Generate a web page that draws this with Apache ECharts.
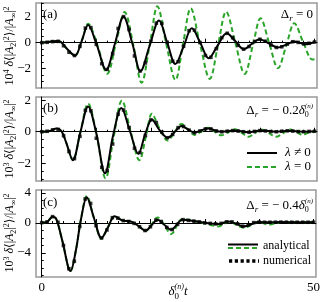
<!DOCTYPE html>
<html><head><meta charset="utf-8">
<script src="https://cdn.jsdelivr.net/npm/echarts@6/dist/echarts.min.js"></script>
<style>html,body{margin:0;padding:0;background:#fff}#c{width:323px;height:302px}</style>
</head><body><div id="c"></div>
<script>
// ---------- data ----------
// panel (a): Delta_r = 0
const aBlackX = [0, 1.2, 2.7, 3.5, 4.8, 6.1, 7.3, 8.5, 10.1, 11.8, 13.4, 15.0, 16.6, 18.1, 19.8, 21.5, 23.0, 24.5, 26.0, 27.5, 29.1, 30.6, 32.2, 33.9, 35.5, 37.0, 38.5, 39.9, 41.6, 43.3, 44.8, 46.3, 48.3, 50];
const aBlackY = [0, 0.05, 0.12, 0.05, -0.55, -1.0, 0.1, 1.35, -0.2, -2.1, -0.1, 2.0, -0.05, -2.2, -0.2, 1.7, 0.0, -1.65, -0.3, 1.1, -0.05, -1.2, -0.25, 0.72, 0.1, -0.5, -0.1, 0.26, -0.05, -0.38, -0.15, 0.08, -0.12, 0.05];
const aGreenX = [0, 1.2, 2.7, 3.5, 4.8, 6.1, 7.3, 8.5, 10.2, 12.0, 13.6, 15.2, 16.8, 18.3, 19.8, 21.2, 22.8, 24.5, 25.9, 27.3, 29.0, 30.8, 32.3, 33.8, 35.5, 37.2, 38.7, 40.1, 41.7, 43.3, 44.8, 46.3, 47.9, 49.6, 50];
const aGreenY = [0, 0.05, 0.12, 0.05, -0.55, -1.0, 0.1, 1.45, -0.2, -2.4, -0.05, 2.35, -0.2, -3.08, -0.15, 2.8, -0.05, -2.87, -0.1, 2.64, -0.1, -2.79, -0.2, 2.38, -0.05, -2.41, -0.2, 1.87, -0.05, -1.97, -0.25, 1.49, 0.05, -1.3, -1.27];
// numerical points at t = 0, 1, ..., 50
const numT = [0, 1, 2, 3, 4, 5, 6, 7, 8, 9, 10, 11, 12, 13, 14, 15, 16, 17, 18, 19, 20, 21, 22, 23, 24, 25, 26, 27, 28, 29, 30, 31, 32, 33, 34, 35, 36, 37, 38, 39, 40, 41, 42, 43, 44, 45, 46, 47, 48, 49, 50];
const aNumY = [0, 0.03, 0.08, 0.1, -0.24, -0.74, -0.99, -0.28, 1.12, 1.16, -0.13, -1.62, -2.06, -0.84, 1.09, 2.0, 1.01, -1.02, -2.19, -1.56, 0.11, 1.5, 1.48, 0.03, -1.43, -1.47, -0.28, 0.92, 0.96, 0.01, -0.99, -1.13, -0.47, 0.39, 0.72, 0.38, -0.21, -0.5, -0.3, 0.09, 0.26, 0.11, -0.18, -0.37, -0.32, -0.11, 0.07, 0.02, -0.1, -0.05, 0.05];

// panel (b): Delta_r = -0.2 delta
const bBlackX = [0, 1.5, 2.7, 3.6, 4.5, 5.7, 7.1, 8.5, 10.0, 11.6, 13.1, 14.6, 16.2, 17.7, 19.0, 20.2, 21.6, 23.1, 24.4, 25.6, 26.8, 28.0, 29.2, 30.5, 32.0, 33.0, 35.3, 37.9, 40.2, 42.9, 45.4, 47.8, 50];
const bBlackY = [0, 0.05, 0.2, 0.05, -0.7, -1.8, 0.0, 1.6, -0.1, -2.63, -0.2, 1.5, 0.0, -1.4, -0.1, 0.78, 0.1, -0.38, 0.0, 0.36, 0.15, -0.06, 0.08, 0.21, 0.05, 0.0, 0.08, -0.03, 0.08, 0.0, 0.06, 0.0, 0.03];
const bGreenX = [0, 1.5, 2.7, 3.6, 4.5, 5.7, 7.1, 8.5, 10.0, 11.7, 13.2, 14.7, 16.3, 17.9, 19.1, 20.2, 21.6, 23.1, 24.4, 25.6, 26.8, 28.0, 29.2, 30.5, 31.7, 32.9, 34.1, 35.3, 36.6, 37.9, 39.0, 40.2, 41.5, 42.9, 44.2, 45.4, 46.6, 47.8, 49.0, 50];
const bGreenY = [0, 0.05, 0.2, 0.05, -0.7, -1.8, 0.0, 1.78, -0.1, -2.95, -0.3, 1.98, 0.0, -1.8, -0.3, 1.14, 0.2, -0.56, 0.0, 0.49, 0.15, -0.2, 0.0, 0.25, 0.0, -0.23, -0.05, 0.15, -0.05, -0.32, -0.1, 0.15, -0.05, -0.32, -0.1, 0.15, 0.0, -0.2, -0.05, 0.0];
const bNumY = [0, 0.03, 0.12, 0.15, -0.25, -1.25, -1.7, -0.29, 1.35, 1.33, -0.41, -2.25, -2.45, -0.78, 1.11, 1.38, 0.27, -1.05, -1.32, -0.24, 0.75, 0.58, -0.02, -0.38, -0.17, 0.26, 0.33, 0.1, -0.06, 0.05, 0.18, 0.18, 0.05, 0.0, 0.03, 0.07, 0.04, 0.0, -0.03, 0.02, 0.07, 0.05, 0.01, 0.0, 0.03, 0.06, 0.04, 0.01, 0.0, 0.02, 0.03];

// panel (c): Delta_r = -0.4 delta
const cBlackX = [0, 1.0, 2.0, 2.7, 3.8, 5.3, 6.3, 7.2, 8.3, 9.6, 11.0, 12.2, 13.4, 14.8, 16.6, 17.9, 19.1, 20.2, 21.3, 22.5, 23.8, 25.9, 28.3, 30.2, 32.5, 34.4, 37.2, 39.9, 41.8, 44, 47, 50];
const cBlackY = [0.05, 0.15, 0.85, 0.5, -2.4, -6.4, -3.6, 0.4, 3.45, 0.7, -2.0, -0.55, 0.9, 0.35, 0.15, -0.45, -1.03, -0.3, 0.44, -0.2, -0.9, 0.44, 0.22, 0.0, -0.13, 0.2, -0.45, 0.13, 0.1, 0.12, 0.1, 0.1];
const cGreenX = [0, 1.0, 2.0, 2.7, 3.8, 5.3, 6.3, 7.2, 8.3, 9.6, 11.0, 12.2, 13.4, 14.8, 16.6, 17.9, 19.1, 20.2, 21.3, 22.5, 23.8, 25.9, 28.3, 30.2, 32.5, 34.4, 37.2, 39.9, 41.8, 44, 47, 50];
const cGreenY = [0.05, 0.15, 0.85, 0.5, -2.4, -6.4, -3.6, 0.4, 3.6, 0.7, -2.1, -0.55, 0.9, 0.35, 0.15, -0.45, -1.05, -0.2, 0.75, -0.2, -1.47, 0.55, 0.2, -0.1, -0.45, 0.15, -0.62, 0.13, -0.22, 0.1, 0.1, 0.1];
const cNumY = [0.05, 0.15, 0.85, 0.1, -3.0, -6.1, -5.1, -0.45, 3.2, 2.6, -0.36, -2.0, -0.93, 0.71, 0.65, 0.32, 0.2, -0.05, -0.5, -1.0, -0.5, 0.37, 0.2, -0.59, -0.87, -0.18, 0.44, 0.35, 0.25, 0.15, 0.02, -0.05, -0.12, -0.05, 0.15, 0.15, -0.1, -0.43, -0.25, 0.05, 0.13, 0.1, 0.1, 0.11, 0.12, 0.11, 0.1, 0.1, 0.1, 0.1, 0.1];

// ticks
const xTickMajor = [0, 10, 20, 30, 40, 50];
const xTickMinor = [2, 4, 6, 8, 12, 14, 16, 18, 22, 24, 26, 28, 32, 34, 36, 38, 42, 44, 46, 48];
const xTickLabels = [0, 50];
const yLabelsA = [-2, 0, 2];
const yMinorA = [-3.5, -3, -2.5, -1.5, -1, -0.5, 0.5, 1, 1.5, 2.5, 3];
const yLabelsB = [-2, 0, 2];
const yMinorB = [-3, -2.5, -1.5, -1, -0.5, 0.5, 1, 1.5];
const yLabelsC = [-4, 0, 4];
const yMinorC = [-7, -6, -5, -3, -2, -1, 1, 2, 3];
const yRanges = [[-3.49, 3.05], [-3.12, 2.2], [-7.2, 4.4]];
const xRange = [-1.05, 50.45];

// ---------- chart ----------
const FONT = '"Liberation Serif", "DejaVu Serif", serif';
const GREEN = '#2aa52a';
const pairs = (xs, ys) => xs.map((x, i) => [x, ys[i]]);
const grids = [
  {left: 36, right: 6, top: 3, height: 85},
  {left: 36, right: 6, top: 97, height: 84},
  {left: 36, right: 6, top: 190, height: 87}
].map(g => Object.assign(g, {show: true, borderColor: '#999', borderWidth: 1.5, containLabel: false}));

const xAxes = [], yAxes = [];
const yLab = [yLabelsA, yLabelsB, yLabelsC], yMin = [yMinorA, yMinorB, yMinorC];
for (let i = 0; i < 3; i++) {
  xAxes.push({type: 'value', gridIndex: i, min: xRange[0], max: xRange[1], position: 'bottom',
    axisLine: {show: true, lineStyle: {color: '#000', width: 1}},
    axisTick: {show: true, inside: true, length: 4, customValues: xTickMajor, lineStyle: {color: '#000'}},
    axisLabel: {show: i === 2, customValues: xTickLabels, margin: 4, fontFamily: FONT, fontSize: 13, color: '#000'},
    splitLine: {show: false}});
  xAxes.push({type: 'value', gridIndex: i, min: xRange[0], max: xRange[1], position: 'bottom',
    axisLine: {show: false},
    axisTick: {show: true, inside: true, length: 2, customValues: xTickMinor, lineStyle: {color: '#000'}},
    axisLabel: {show: false}, splitLine: {show: false}});
  yAxes.push({type: 'value', gridIndex: i, min: yRanges[i][0], max: yRanges[i][1], position: 'left',
    axisLine: {show: true, lineStyle: {color: '#000', width: 1}},
    axisTick: {show: true, inside: true, length: 4, customValues: yLab[i], lineStyle: {color: '#000'}},
    axisLabel: {show: true, customValues: yLab[i], margin: 5, fontFamily: FONT, fontSize: 13, color: '#000',
      formatter: v => (v < 0 ? '\u2212' + Math.abs(v) : String(v))},
    splitLine: {show: false}});
  yAxes.push({type: 'value', gridIndex: i, min: yRanges[i][0], max: yRanges[i][1], position: 'left', offset: 0,
    axisLine: {show: false},
    axisTick: {show: true, inside: true, length: 2, customValues: yMin[i], lineStyle: {color: '#000'}},
    axisLabel: {show: false}, splitLine: {show: false}});
}

const seriesData = [
  [pairs(aGreenX, aGreenY), pairs(aBlackX, aBlackY), pairs(numT, aNumY)],
  [pairs(bGreenX, bGreenY), pairs(bBlackX, bBlackY), pairs(numT, bNumY)],
  [pairs(cGreenX, cGreenY), pairs(cBlackX, cBlackY), pairs(numT, cNumY)]
];
const series = [];
for (let i = 0; i < 3; i++) {
  const base = {xAxisIndex: 2 * i, yAxisIndex: 2 * i, animation: false, silent: true};
  series.push(Object.assign({type: 'line', showSymbol: false, symbol: 'none', smooth: 0.35}, base,
    {data: seriesData[i][0], z: 2, lineStyle: {color: GREEN, width: 2, type: [5, 3]}}));
  series.push(Object.assign({type: 'line', showSymbol: false, symbol: 'none', smooth: 0.35}, base,
    {data: seriesData[i][1], z: 3, lineStyle: {color: '#000', width: 2}}));
  series.push(Object.assign({type: 'scatter', symbol: 'rect', symbolSize: 3.6}, base,
    {data: seriesData[i][2], z: 4, itemStyle: {color: '#000'}}));
}

// ---------- text helpers ----------
const mctx = document.createElement('canvas').getContext('2d');
function tw(s, size, it) { mctx.font = (it ? 'italic ' : '') + size + 'px "Liberation Serif"'; return mctx.measureText(s).width; }
function textRun(x, y, pieces, align) {
  let total = 0;
  pieces.forEach(p => { if (!p.noAdv) total += tw(p.s, p.size, p.it); });
  let cx = align === 'right' ? x - total : align === 'center' ? x - total / 2 : x;
  const out = [];
  pieces.forEach(p => {
    out.push({type: 'text', x: cx, y: y + (p.dy || 0), z: 10, silent: true,
      style: {text: p.s, fontFamily: FONT, fontSize: p.size, fontStyle: p.it ? 'italic' : 'normal',
        fill: '#000', textAlign: 'left', textVerticalAlign: 'middle', verticalAlign: 'middle'}});
    if (!p.noAdv) cx += tw(p.s, p.size, p.it);
  });
  return out;
}
const g = [];
// panel labels
g.push(...textRun(43, 15, [{s: '(a)', size: 13}], 'left'));
g.push(...textRun(43, 109, [{s: '(b)', size: 13}], 'left'));
g.push(...textRun(43, 203, [{s: '(c)', size: 13}], 'left'));
// Delta annotations
g.push(...textRun(313, 15, [{s: '\u0394', size: 13}, {s: 'r', size: 9, it: true, dy: 4}, {s: ' = 0', size: 13}], 'right'));
const deltaN = (v) => [{s: '\u0394', size: 13}, {s: 'r', size: 9, it: true, dy: 4}, {s: ' = \u2212 ' + v, size: 13},
  {s: '\u03b4', size: 13, it: true}, {s: '0', size: 8, dy: 4, noAdv: true}, {s: '(n)', size: 7, it: true, dy: -5}];
g.push(...textRun(313, 111, deltaN('0.2'), 'right'));
g.push(...textRun(313, 206, deltaN('0.4'), 'right'));
// legend (b)
g.push({type: 'line', z: 10, silent: true, shape: {x1: 247, y1: 153, x2: 277, y2: 153}, style: {stroke: '#000', lineWidth: 2}});
g.push({type: 'line', z: 10, silent: true, shape: {x1: 247, y1: 167, x2: 277, y2: 167}, style: {stroke: GREEN, lineWidth: 2, lineDash: [5, 3]}});
g.push(...textRun(285, 153, [{s: '\u03bb', size: 13, it: true}, {s: ' \u2260 0', size: 13}], 'left'));
g.push(...textRun(285, 167, [{s: '\u03bb', size: 13, it: true}, {s: ' = 0', size: 13}], 'left'));
// legend (c)
g.push({type: 'line', z: 10, silent: true, shape: {x1: 228, y1: 244.5, x2: 258, y2: 244.5}, style: {stroke: '#000', lineWidth: 2}});
g.push({type: 'line', z: 10, silent: true, shape: {x1: 228, y1: 248, x2: 258, y2: 248}, style: {stroke: GREEN, lineWidth: 2, lineDash: [5, 3]}});
g.push({type: 'line', z: 10, silent: true, shape: {x1: 229, y1: 261, x2: 259, y2: 261}, style: {stroke: '#000', lineWidth: 3.4, lineDash: [3.2, 2.6]}});
g.push(...textRun(263, 246, [{s: 'analytical', size: 12}], 'left'));
g.push(...textRun(263, 260.5, [{s: 'numerical', size: 12}], 'left'));
// x axis title
g.push(...textRun(178, 292, [{s: '\u03b4', size: 13, it: true}, {s: '0', size: 9, dy: 5, noAdv: true}, {s: '(n)', size: 8, it: true, dy: -5}, {s: 't', size: 13, it: true}], 'center'));
// y axis titles
const yRich = {
  n: {fontFamily: FONT, fontSize: 12, lineHeight: 15, verticalAlign: 'middle'},
  i: {fontFamily: FONT, fontSize: 12, fontStyle: 'italic', lineHeight: 15, verticalAlign: 'middle'},
  sp: {fontFamily: FONT, fontSize: 8, verticalAlign: 'top'},
  sb: {fontFamily: FONT, fontSize: 8, verticalAlign: 'bottom'}
};
const yTitle = (p) => '{n|10}{sp|' + p + '}{n| }{i|\u03b4}{n|\u27e8|}{i|A}{sb|2}{n||}{sp|2}{n|\u27e9/|}{i|A}{sb|\u221e}{n||}{sp|2}';
[[46, 4], [139, 3], [233, 3]].forEach(([cy, p]) => {
  g.push({type: 'text', x: 10, y: cy, rotation: Math.PI / 2, z: 10, silent: true,
    style: {text: yTitle(p), rich: yRich, fill: '#000', textAlign: 'center', textVerticalAlign: 'middle', verticalAlign: 'middle'}});
});

const chart = echarts.init(document.getElementById('c'), null, {renderer: 'canvas'});
chart.setOption({
  animation: false,
  backgroundColor: '#fff',
  grid: grids,
  xAxis: xAxes,
  yAxis: yAxes,
  series: series,
  graphic: {elements: g}
});
</script></body></html>
